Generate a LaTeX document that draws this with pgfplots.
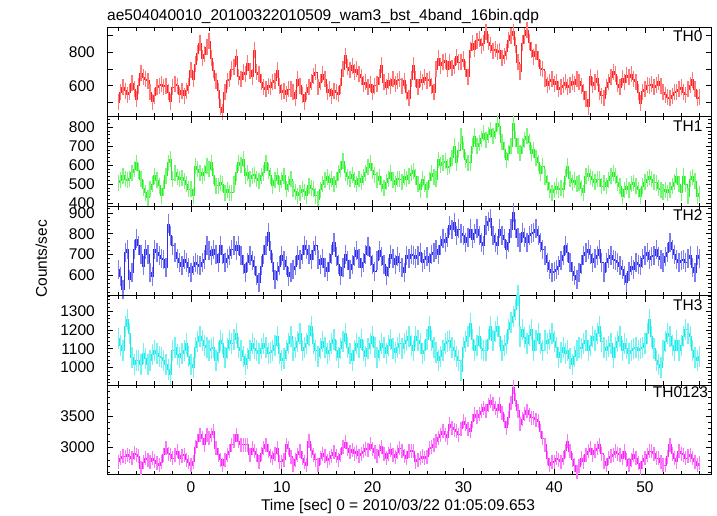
\documentclass[border=0pt]{standalone}
\usepackage{fontspec}
\setmainfont{Liberation Sans}
\usepackage{pgfplots}
\usepackage{pgfplotstable}
\pgfplotsset{compat=1.18}
\usepgfplotslibrary{groupplots}
\definecolor{c0}{RGB}{255,35,35}
\definecolor{c1}{RGB}{35,240,35}
\definecolor{c2}{RGB}{45,45,235}
\definecolor{c3}{RGB}{25,235,235}
\definecolor{c4}{RGB}{250,35,250}
\newcommand\fs{\fontsize{15.5bp}{18bp}\selectfont}
\pgfplotstableread{
t a b c d e
-8 500 509 629 1155 2774
-7.75 560 520 596 1120 2830
-7.5 590 544 532 1091 2855
-7.25 570 526 710 1218 2850
-7 545 520 726 1254 2882
-6.75 560 530 580 1182 2860
-6.5 615 560 612 1055 2828
-6.25 580 579 726 1018 2909
-6 520 614 775 1040 2882
-5.75 600 570 742 1036 2860
-5.5 675 526 700 1018 2666
-5.25 650 480 645 1073 2760
-5 640 456 726 1050 2828
-4.75 630 430 700 1018 2800
-4.5 560 474 612 1036 2774
-4.25 505 500 596 1070 2828
-4 540 544 726 1091 2790
-3.75 590 520 710 1073 2747
-3.5 600 491 694 1060 2720
-3.25 610 439 680 1055 2760
-3 595 480 677 1036 2882
-2.75 600 544 637 1018 2989
-2.5 560 614 847 990 2900
-2.25 505 632 791 964 2882
-2 590 526 742 1091 2828
-1.75 610 561 710 1109 2880
-1.5 600 540 680 1070 2935
-1.25 545 526 661 1055 2828
-1 570 535 645 1073 2870
-0.75 540 518 677 1090 2882
-0.5 570 500 661 1127 2801
-0.25 600 474 640 1060 2760
0 694 474 612 1018 2720
0.25 640 439 645 1000 2774
0.5 730 596 661 1109 3000
0.75 794 579 650 1140 3097
1 855 560 645 1164 3204
1.25 764 544 660 1146 3150
1.5 790 561 677 1120 3043
1.75 830 596 742 1109 3204
2 866 580 720 1091 3151
2.25 764 614 694 1100 3200
2.5 694 544 726 1109 3258
2.75 630 491 700 1036 2989
3 570 491 661 1080 2882
3.25 470 509 742 1146 2800
3.5 440 500 700 1127 2720
3.75 560 456 661 1055 2800
4 630 470 680 1100 2882
4.25 640 456 694 1146 2935
4.5 700 456 726 1127 3043
4.75 714 500 742 1150 3100
5 774 561 720 1182 3204
5.25 654 614 742 1109 3100
5.5 640 600 694 1091 3043
5.75 680 632 650 1060 3043
6 670 544 612 1018 3043
6.25 734 560 661 1050 3043
6.5 690 530 694 1091 2882
6.75 654 544 670 1127 2989
7 814 550 645 1100 2935
7.25 680 530 600 1091 2880
7.5 670 518 564 1073 2774
7.75 620 544 645 1100 2900
8 590 560 700 1127 2989
8.25 580 614 742 1109 3043
8.5 600 570 807 1073 2935
8.75 590 544 720 1080 2870
9 620 491 661 1091 2828
9.25 630 520 580 1120 2900
9.5 694 544 620 1164 2989
9.75 600 500 645 1073 2774
10 560 520 694 1036 2774
10.25 570 544 670 1050 2800
10.5 550 474 645 1091 3043
10.75 580 500 596 1130 2989
11 580 526 612 1164 2850
11.25 560 474 630 1091 2720
11.5 525 460 645 1109 2800
11.75 640 439 694 1140 2882
12 600 456 677 1182 2935
12.25 545 474 700 1091 2828
12.5 505 460 742 1109 2760
12.75 560 439 726 1127 2720
13 590 491 700 1170 3097
13.25 620 480 677 1218 2950
13.5 660 474 720 1127 2882
13.75 680 440 742 1091 2800
14 590 421 677 1060 2720
14.25 620 470 650 1100 2830
14.5 670 500 680 1140 2900
14.75 640 520 640 1109 2860
15 560 540 620 1073 2790
15.25 580 510 660 1091 2830
15.5 540 530 700 1127 2870
15.75 570 500 760 1150 2920
16 560 520 690 1091 2860
16.25 550 560 650 1055 2800
16.5 600 580 600 1100 2880
16.75 700 620 640 1140 3000
17 780 560 700 1182 3080
17.25 710 540 670 1109 2980
17.5 694 530 630 1073 2920
17.75 720 550 650 1040 2960
18 680 520 690 1091 2900
18.25 700 500 720 1127 2930
18.5 670 530 680 1109 2870
18.75 650 510 640 1150 2900
19 610 540 660 1091 2940
19.25 620 560 700 1060 2980
19.5 590 590 740 1100 2960
19.75 610 610 690 1127 3050
20 560 570 650 1164 2980
20.25 600 550 620 1109 2920
20.5 610 520 670 1055 2870
20.75 650 540 720 1091 2950
21 724 500 690 1130 3010
21.25 620 480 650 1109 2900
21.5 590 510 600 1073 2830
21.75 630 530 640 1120 2900
22 600 560 700 1150 2960
22.25 640 520 680 1100 2880
22.5 610 500 650 1080 2840
22.75 630 530 690 1109 2920
23 640 525 661 1127 2989
23.25 600 510 640 1100 2950
23.5 630 540 612 1127 2870
23.75 560 525 694 1146 2828
24 525 545 680 1164 2935
24.25 640 559 700 1120 2950
24.5 724 570 694 1091 2935
24.75 640 540 680 1164 2774
25 590 500 694 1146 2800
25.25 640 472 710 1127 2828
25.5 620 525 661 1073 2860
25.75 650 500 677 1091 2828
26 630 472 690 1150 2850
26.25 640 520 660 1218 2989
26.5 600 559 700 1146 3000
26.75 560 540 710 1109 3043
27 700 525 726 1080 3100
27.25 764 629 700 1036 3151
27.5 720 600 742 1060 3204
27.75 740 612 775 1091 3258
28 750 620 758 1127 3200
28.25 700 590 780 1140 3151
28.5 744 594 839 1146 3366
28.75 704 640 820 1109 3312
29 720 699 856 1091 3280
29.25 774 612 791 1060 3258
29.5 740 680 823 1036 3204
29.75 744 751 800 982 3300
30 760 681 791 1109 3420
30.25 700 629 758 1140 3366
30.5 654 612 780 1164 3300
30.75 814 612 823 1236 3258
31 854 699 775 1150 3420
31.25 820 751 800 1091 3527
31.5 870 700 823 1120 3480
31.75 880 716 791 1164 3527
32 840 740 760 1100 3580
32.25 854 768 742 1091 3635
32.5 924 733 839 1091 3581
32.75 860 760 860 1150 3680
33 844 786 872 1218 3742
33.25 810 751 791 1146 3689
33.5 820 780 760 1190 3620
33.75 800 820 742 1218 3581
34 810 803 823 1164 3689
34.25 764 720 790 1091 3550
34.5 780 681 775 1120 3420
34.75 804 629 726 1127 3312
35 874 664 760 1200 3474
35.25 900 700 823 1240 3700
35.5 924 820 904 1273 3958
35.75 844 740 823 1309 3750
36 740 699 780 1382 3581
36.25 684 664 758 1164 3366
36.5 854 700 807 1200 3450
36.75 900 733 780 1160 3527
37 934 751 758 1127 3581
37.25 860 720 791 1170 3520
37.5 814 664 800 1200 3474
37.75 774 681 807 1091 3474
38 804 640 823 1146 3440
38.25 760 612 791 1182 3420
38.5 704 559 760 1130 3258
38.75 700 594 726 1091 3150
39 640 540 694 1146 3043
39.25 604 507 660 1127 2828
39.5 624 472 629 1150 2720
39.75 640 455 612 1182 2760
40 610 470 620 1140 2774
40.25 624 490 629 1109 2828
40.5 580 472 645 1055 2800
40.75 590 480 670 1080 2774
41 604 472 694 1109 2828
41.25 620 540 742 1073 2950
41.5 590 594 710 1091 3097
41.75 604 530 661 1050 2935
42 624 507 620 1018 2800
42.25 610 520 600 1060 2720
42.5 640 500 580 1091 2613
42.75 624 507 612 1109 2700
43 600 480 650 1100 2828
43.25 564 455 694 1127 2774
43.5 520 542 710 1146 2882
43.75 474 559 726 1091 2940
44 654 540 700 1120 2989
44.25 604 525 661 1164 2882
44.5 620 510 680 1146 2950
44.75 644 525 694 1180 2989
45 564 525 726 1218 3043
45.25 540 490 660 1140 2900
45.5 525 507 612 1109 2774
45.75 590 490 661 1091 2720
46 620 520 680 1110 2828
46.25 650 542 694 1127 2860
46.5 684 560 677 1055 2882
46.75 670 542 670 1109 2935
47 610 507 661 1140 2900
47.25 590 490 645 1164 2882
47.5 644 438 629 1091 2828
47.75 620 472 600 1127 2935
48 664 490 564 1100 2800
48.25 650 470 620 1073 2720
48.5 670 500 645 1091 2800
48.75 640 507 629 1100 2882
49 624 490 661 1109 2828
49.25 560 470 650 1091 2750
49.5 495 438 645 1100 2666
49.75 564 490 680 1109 2774
50 580 510 694 1127 2830
50.25 604 525 710 1180 2882
50.5 600 540 677 1254 2935
50.75 610 525 690 1164 2935
51 590 510 694 1100 2900
51.25 604 507 726 1036 2828
51.5 624 480 690 1018 2828
51.75 600 472 677 1000 2760
52 560 460 661 1091 2720
52.25 545 472 690 1140 2720
52.5 530 455 710 1182 2850
52.75 525 470 758 1164 3043
53 540 490 726 1120 2900
53.25 560 510 700 1091 2828
53.5 564 542 677 1146 2774
53.75 580 500 661 1091 2935
54 590 455 670 1120 2900
54.25 560 542 677 1164 2882
54.5 545 500 661 1200 2828
54.75 580 438 680 1180 2860
55 604 525 694 1164 2882
55.25 635 540 640 1091 2830
55.5 580 516 612 1055 2774
55.75 525 438 694 1036 2720
56 530 450 680 1060 2750
}\lc
\begin{document}
\begin{tikzpicture}
\begin{groupplot}[
  group style={group size=1 by 5, vertical sep=0pt},
  width=604.7bp, height=89.4bp, scale only axis,
  xmin=-9.25, xmax=57.35,
  xtick={0,10,...,50}, minor xtick={-8,-6,...,56},
  xticklabels={},
  scaled ticks=false,
  /pgf/number format/assume math mode=true,
  /pgf/number format/1000 sep={},
  tick label style={font=\fs, inner sep=0pt},
  yticklabel style={xshift=-12bp},
  xticklabel style={yshift=-7.5bp},
  major tick length=6bp, minor tick length=3.5bp,
  tick style={black, line width=0.7bp},
  axis line style={black, line width=0.8bp},
  tick align=inside,
]
\nextgroupplot[ymin=414, ymax=950, ytick={500,600,700,800,900}, yticklabels={,600,,800,}]
\addplot[only marks, mark=|, mark size=8bp, mark options={c0!62, line width=1.3bp}] table[x=t, y=a]{\lc};
\addplot[c0, const plot mark mid, line width=0.9bp] table[x=t, y=a]{\lc};
\node[anchor=base east, font=\fs, inner sep=0pt] at ([xshift=-9bp, yshift=-14.5bp]rel axis cs:1,1) {TH0};
\nextgroupplot[ymin=385, ymax=855, ytick={400,500,600,700,800}, minor ytick={400,420,...,840}]
\addplot[only marks, mark=|, mark size=8bp, mark options={c1!62, line width=1.3bp}] table[x=t, y=b]{\lc};
\addplot[c1, const plot mark mid, line width=0.9bp] table[x=t, y=b]{\lc};
\node[anchor=base east, font=\fs, inner sep=0pt] at ([xshift=-9bp, yshift=-14.5bp]rel axis cs:1,1) {TH1};
\nextgroupplot[ymin=503, ymax=933, ytick={600,700,800,900}, minor ytick={520,540,...,920}]
\addplot[only marks, mark=|, mark size=9.5bp, mark options={c2!62, line width=1.3bp}] table[x=t, y=c]{\lc};
\addplot[c2, const plot mark mid, line width=0.9bp] table[x=t, y=c]{\lc};
\node[anchor=base east, font=\fs, inner sep=0pt] at ([xshift=-9bp, yshift=-14.5bp]rel axis cs:1,1) {TH2};
\nextgroupplot[ymin=908, ymax=1383, ytick={1000,1100,1200,1300}, minor ytick={920,940,...,1380}]
\addplot[only marks, mark=|, mark size=10.5bp, mark options={c3!62, line width=1.3bp}] table[x=t, y=d]{\lc};
\addplot[c3, const plot mark mid, line width=0.9bp] table[x=t, y=d]{\lc};
\node[anchor=base east, font=\fs, inner sep=0pt] at ([xshift=-9bp, yshift=-14.5bp]rel axis cs:1,1) {TH3};
\nextgroupplot[ymin=2571, ymax=3995, ytick={3000,3500}, minor ytick={2600,2700,...,3900}, xticklabels={0,10,20,30,40,50}]
\addplot[only marks, mark=|, mark size=7bp, mark options={c4!62, line width=1.3bp}] table[x=t, y=e]{\lc};
\addplot[c4, const plot mark mid, line width=0.9bp] table[x=t, y=e]{\lc};
\node[anchor=base east, font=\fs, inner sep=0pt] at ([xshift=-3.5bp, yshift=-13bp]rel axis cs:1,1) {TH0123};
\end{groupplot}
\node[anchor=base west, font=\fs, inner sep=0pt] at ([yshift=6.3bp]group c1r1.north west) {ae504040010\_20100322010509\_wam3\_bst\_4band\_16bin.qdp};
\node[anchor=base, font=\fs, inner sep=0pt] at ([xshift=291bp, yshift=-35.7bp]group c1r5.south west) {Time [sec] 0 = 2010/03/22 01:05:09.653};
\node[rotate=90, anchor=base, font=\fs, inner sep=0pt] at ([xshift=-60bp, yshift=215.3bp]group c1r5.south west) {Counts/sec};
\path ([xshift=-107bp, yshift=-41.7bp]group c1r5.south west) rectangle ++(717bp,516bp);
\end{tikzpicture}
\end{document}
